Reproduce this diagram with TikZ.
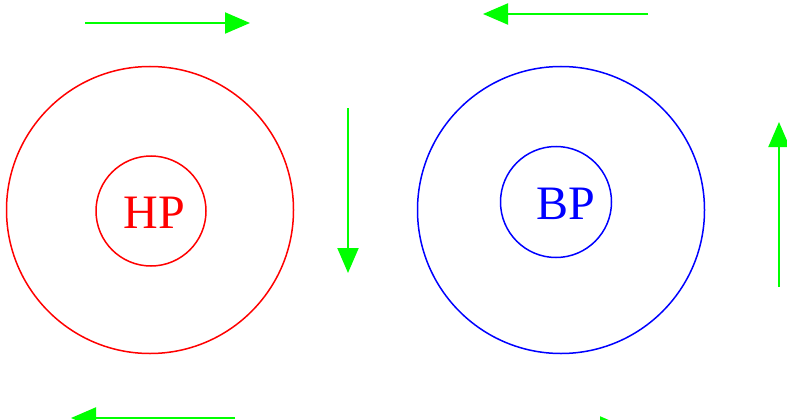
\documentclass[tikz,border=0pt]{standalone}
\usepackage{fontspec}
\setmainfont{Liberation Serif}
\usetikzlibrary{arrows.meta}
\definecolor{flowgreen}{RGB}{0,255,0}
\tikzset{
  ring/.style={circle, draw, line width=1.5pt, inner sep=0pt},
  label/.style={font=\fontsize{48}{48}\selectfont, inner sep=0pt},
  flow/.style={draw=flowgreen, line width=2pt,
    -{Triangle[length=25pt,width=21pt,fill=flowgreen]}}
}
\begin{document}
\begin{tikzpicture}[x=1pt,y=-1pt]
  \useasboundingbox (0,0) rectangle (787,420);

  % high pressure cell
  \node[ring, draw=red, minimum size=287pt] (hpOuter) at (150,210) {};
  \node[ring, draw=red, minimum size=110pt] (hpInner) at (151,211) {};
  \node[label, text=red] (hpText) at (154.5,212.5) {HP};

  % low pressure cell
  \node[ring, draw=blue, minimum size=287pt] (bpOuter) at (561,210) {};
  \node[ring, draw=blue, minimum size=111pt] (bpInner) at (556,202) {};
  \node[label, text=blue] (bpText) at (566,204) {BP};

  % circulation arrows
  \coordinate (tlA) at (85,23);   \coordinate (tlB) at (250,23);
  \coordinate (trA) at (648,14);  \coordinate (trB) at (483,14);
  \coordinate (dnA) at (348,108); \coordinate (dnB) at (348,273);
  \coordinate (upA) at (779,287); \coordinate (upB) at (779,122);
  \coordinate (blA) at (235,418); \coordinate (blB) at (71,418);
  \coordinate (brA) at (460,427); \coordinate (brB) at (625,427);

  \draw[flow] (tlA) -- (tlB);
  \draw[flow] (trA) -- (trB);
  \draw[flow] (dnA) -- (dnB);
  \draw[flow] (upA) -- (upB);
  \draw[flow] (blA) -- (blB);
  \draw[flow] (brA) -- (brB);
\end{tikzpicture}
\end{document}
